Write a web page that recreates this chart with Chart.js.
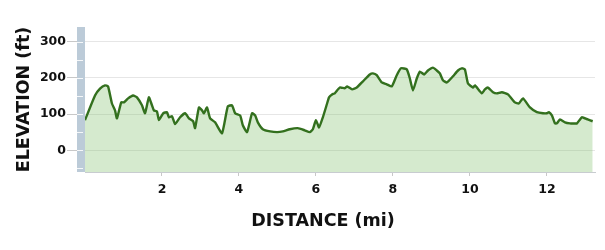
<!DOCTYPE html>
<html>
<head>
<meta charset="utf-8">
<script src="https://cdn.jsdelivr.net/npm/chart.js@4.4.1/dist/chart.umd.min.js"></script>
<style>
  html, body { margin: 0; padding: 0; background: #fff; }
  #wrap { width: 605px; height: 250px; }
</style>
</head>
<body>
<div id="wrap"><canvas id="elev" width="605" height="250"></canvas></div>
<script>
'use strict';

// distance along the route (mi) and elevation (ft)
var distance = [
   0, 0.26, 0.39, 0.52, 0.60, 0.70, 0.78, 0.83, 0.94, 1.01, 1.12, 1.25, 1.35, 1.48, 1.56, 1.66,
   1.74, 1.79, 1.87, 1.92, 2.03, 2.13, 2.18, 2.26, 2.34, 2.47, 2.60, 2.70, 2.81, 2.86, 2.96, 3.04,
   3.09, 3.17, 3.25, 3.38, 3.56, 3.71, 3.82, 3.90, 4.03, 4.10, 4.21, 4.34, 4.42, 4.49, 4.62, 4.81,
   4.99, 5.14, 5.32, 5.53, 5.71, 5.84, 5.92, 6.00, 6.08, 6.18, 6.29, 6.34, 6.42, 6.49, 6.62, 6.75,
   6.81, 6.94, 7.06, 7.22, 7.40, 7.48, 7.58, 7.71, 7.84, 7.97, 8.10, 8.21, 8.36, 8.44, 8.52, 8.62,
   8.70, 8.81, 8.91, 9.04, 9.14, 9.22, 9.30, 9.40, 9.56, 9.69, 9.79, 9.87, 9.95, 10.08, 10.13, 10.31,
   10.39, 10.47, 10.60, 10.70, 10.83, 10.99, 11.17, 11.27, 11.38, 11.56, 11.74, 11.90, 12.00, 12.05, 12.13, 12.21,
   12.26, 12.34, 12.47, 12.60, 12.68, 12.78, 12.91, 13.06, 13.19
];
var elevation = [
   83, 151, 170, 179, 176, 129, 110, 88, 132, 132, 143, 151, 146, 124, 102, 146,
   124, 110, 107, 83, 102, 105, 91, 94, 72, 91, 102, 88, 80, 61, 118, 110,
   102, 118, 88, 77, 47, 121, 124, 102, 96, 69, 50, 102, 96, 77, 58, 52,
   50, 52, 58, 61, 55, 50, 58, 83, 63, 91, 129, 146, 154, 157, 173, 171,
   176, 168, 173, 190, 209, 212, 207, 187, 182, 176, 207, 226, 223, 198, 165, 198,
   217, 209, 220, 228, 220, 212, 193, 187, 204, 220, 226, 223, 184, 173, 179, 157,
   168, 173, 160, 157, 160, 154, 132, 129, 143, 118, 105, 102, 102, 105, 96, 74,
   74, 85, 77, 74, 74, 74, 91, 85, 80, 77
];
var xTicks = [2, 4, 6, 8, 10, 12];
var yTicks = [0, 100, 200, 300];
var yMarks = [-50, 0, 50, 100, 150, 200, 250, 300];

var FONT = '"DejaVu Sans", Lato, sans-serif';

var profile = distance.map(function (d, i) { return { x: d, y: elevation[i] }; });

// blue-grey strip on the left of the plot plus the two axis titles
var decor = {
   id: 'decor',
   afterDraw: function (chart) {
      var ctx = chart.ctx;
      var area = chart.chartArea;
      var y = chart.scales.y;
      ctx.save();
      ctx.fillStyle = '#bccbd8';
      ctx.fillRect(area.left - 8, area.top, 8, area.bottom - area.top);
      ctx.strokeStyle = 'rgba(255,255,255,0.85)';
      ctx.lineWidth = 1;
      yMarks.forEach(function (v) {
         var py = Math.round(y.getPixelForValue(v)) + 0.5;
         ctx.beginPath();
         ctx.moveTo(area.left - 8, py);
         ctx.lineTo(area.left - 2, py);
         ctx.stroke();
      });

      ctx.fillStyle = '#111';
      ctx.font = 'bold 17.5px ' + FONT;
      ctx.textAlign = 'center';
      ctx.textBaseline = 'middle';
      ctx.fillText('DISTANCE (mi)', 323, 221);

      ctx.translate(24, (area.top + area.bottom) / 2);
      ctx.rotate(-Math.PI / 2);
      ctx.fillText('ELEVATION (ft)', 0, 0);
      ctx.restore();
   }
};

var ctx = document.getElementById('elev').getContext('2d');
var chart = new Chart(ctx, {
   type: 'line',
   data: {
      datasets: [{
         data: profile,
         borderColor: '#33701e',
         borderWidth: 2.4,
         backgroundColor: 'rgba(128, 190, 105, 0.33)',
         fill: 'start',
         pointRadius: 0,
         tension: 0.15
      }]
   },
   options: {
      responsive: false,
      animation: false,
      layout: { padding: { top: 27, right: 10, left: 0, bottom: 0 } },
      plugins: { legend: { display: false }, tooltip: { enabled: false } },
      scales: {
         x: {
            type: 'linear',
            min: 0,
            max: 13.25,
            afterFit: function (scale) { scale.height = 78; },
            afterBuildTicks: function (scale) {
               scale.ticks = xTicks.map(function (v) { return { value: v }; });
            },
            grid: { drawOnChartArea: false, tickLength: 4, color: '#c8c8c8' },
            border: { display: true, color: '#c8ccd0' },
            ticks: {
               padding: 6,
               maxRotation: 0,
               color: '#111',
               font: { family: FONT, size: 12.5, weight: 'bold' }
            }
         },
         y: {
            min: -60,
            max: 340,
            afterFit: function (scale) { scale.width = 85; },
            afterBuildTicks: function (scale) {
               scale.ticks = yTicks.map(function (v) { return { value: v }; });
            },
            grid: { color: '#e6e6e6', tickLength: 18, tickColor: '#c8c8c8' },
            border: { display: false },
            ticks: {
               padding: 1,
               color: '#111',
               font: { family: FONT, size: 12.5, weight: 'bold' }
            }
         }
      }
   },
   plugins: [decor]
});
</script>
</body>
</html>
